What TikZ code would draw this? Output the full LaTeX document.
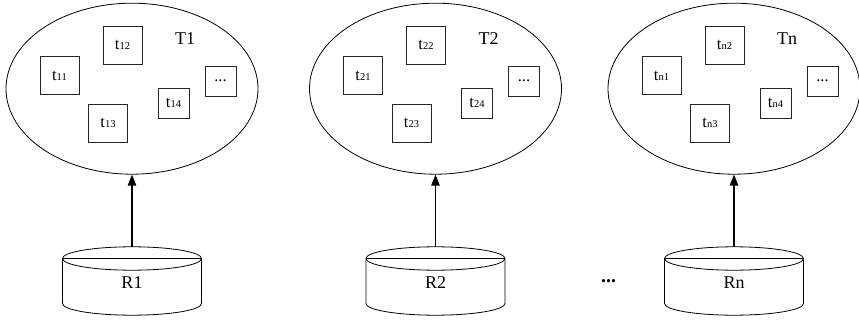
\documentclass[tikz,border=0pt]{standalone}
\usepackage{fontspec}
\setmainfont{Liberation Serif}
\usetikzlibrary{arrows.meta,shapes.geometric}
\newcommand{\tlab}[1]{t{\fontsize{10.5}{10.5}\selectfont #1}}
\tikzset{
  task/.style={draw=black!85,line width=0.8pt,minimum width=39pt,minimum height=38pt,inner sep=0pt,font=\fontsize{16.5}{16.5}\selectfont},
  smalltask/.style={task,minimum width=31pt,minimum height=30pt},
  pool/.style={draw,ellipse,line width=0.8pt,minimum width=252pt,minimum height=171pt,inner sep=0pt},
  store/.style={draw,line width=0.8pt},
  feed/.style={line width=1.3pt,-{Triangle[length=11pt,width=8.5pt]}}
}
\begin{document}
\begin{tikzpicture}[x=1pt,y=-1pt,font=\fontsize{18}{18}\selectfont]
\useasboundingbox (0,0) rectangle (859,323);
\foreach \gx/\gi in {132/1,435.5/2,734/n}{
  % task set
  \node[pool] (T\gi) at (\gx,88.7) {};
  \node (T\gi lab) at (\gx+53,38.5) {T\gi};
  \node[task] (t\gi1) at (\gx-72.5,75.5) {\tlab{\gi1}};
  \node[task] (t\gi2) at (\gx-9.5,45) {\tlab{\gi2}};
  \node[task] (t\gi3) at (\gx-24,123) {\tlab{\gi3}};
  \node[smalltask] (t\gi4) at (\gx+41.5,103) {\tlab{\gi4}};
  \node[smalltask] (t\gi x) at (\gx+88.5,81) {...};
  % resource
  \draw[store] (\gx-69.5,258.5) -- (\gx-69.5,303.5) arc[start angle=180,end angle=0,x radius=69.5,y radius=11.7] -- (\gx+69.5,258.5);
  \draw[store] (\gx,258.5) ellipse[x radius=69.5,y radius=11.7];
  \draw[store] (\gx-69.5,258.5) -- (\gx+69.5,258.5);
  \coordinate (R\gi top) at (\gx,246.8);
  \node (R\gi) at (\gx,282.5) {R\gi};
  \draw[feed] (R\gi top) -- (T\gi.south);
}
\node (Rdots) at (608.5,281) {\fontsize{20}{20}\selectfont\textbf{...}};
\end{tikzpicture}
\end{document}
